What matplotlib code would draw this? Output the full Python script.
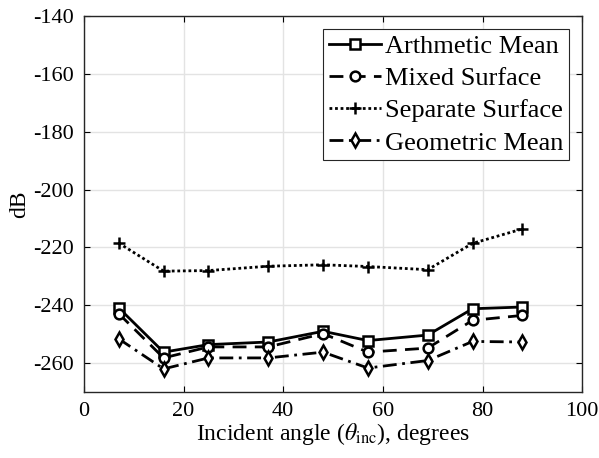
import matplotlib
matplotlib.use("Agg")
import matplotlib.pyplot as plt

angles = [7, 16, 25, 37, 48, 57, 69, 78, 88]
arith_mean = [-240.9, -256.2, -253.6, -252.7, -249.0, -252.2, -250.3, -241.2, -240.6]
mixed_surface = [-242.9, -258.2, -254.4, -254.4, -249.8, -256.2, -254.8, -245.2, -243.5]
separate_surface = [-218.5, -228.2, -228.0, -226.5, -226.0, -226.6, -227.7, -218.6, -213.6]
geometric_mean = [-251.6, -262.0, -258.2, -258.2, -256.2, -261.7, -259.1, -252.5, -252.7]
labels = ["Arthmetic Mean", "Mixed Surface", "Separate Surface", "Geometric Mean"]

plt.rcParams['font.family'] = ['Liberation Serif', 'DejaVu Serif']
plt.rcParams['mathtext.fontset'] = 'stix'
plt.rcParams['axes.unicode_minus'] = False

fig = plt.figure(figsize=(5.99, 4.58), dpi=100)
ax = fig.add_axes([0.140, 0.144, 0.832, 0.821])

common = dict(color='black', linewidth=2, markersize=7, markeredgewidth=1.8,
              markerfacecolor='white', markeredgecolor='black')
ax.plot(angles, arith_mean, linestyle='-', marker='s', label=labels[0], **common)
ax.plot(angles, mixed_surface, linestyle=(0, (5, 3)), marker='o', label=labels[1], **common)
ax.plot(angles, separate_surface, linestyle=(0, (1, 1)), marker='+', label=labels[2],
        **{**common, 'markersize': 9})
ax.plot(angles, geometric_mean, linestyle=(0, (5, 2, 1, 2)), marker='d', label=labels[3], **common)

ax.set_xlim(0, 100)
ax.set_ylim(-270, -140)
ax.set_xticks([0, 20, 40, 60, 80, 100])
ax.set_yticks([-260, -240, -220, -200, -180, -160, -140])
ax.grid(True, color='#e3e3e3', linewidth=1)
ax.set_axisbelow(True)
ax.tick_params(direction='in', top=True, right=True, labelsize=16, length=4, width=0.8, pad=7)
for s in ax.spines.values():
    s.set_linewidth(1.0)
    s.set_color('#262626')

ax.set_xlabel(r'Incident angle ($\theta_{\rm inc}$), degrees', fontsize=17, labelpad=0)
ax.set_ylabel('dB', fontsize=17, labelpad=2)

leg = ax.legend(loc='upper right', fontsize=19, frameon=True, fancybox=False,
                edgecolor='#262626', framealpha=1, handlelength=2.0, handletextpad=0.15,
                borderpad=0.2, labelspacing=0.33, borderaxespad=0.5)
leg.get_frame().set_linewidth(0.8)

fig.savefig('out.png', dpi=100)
